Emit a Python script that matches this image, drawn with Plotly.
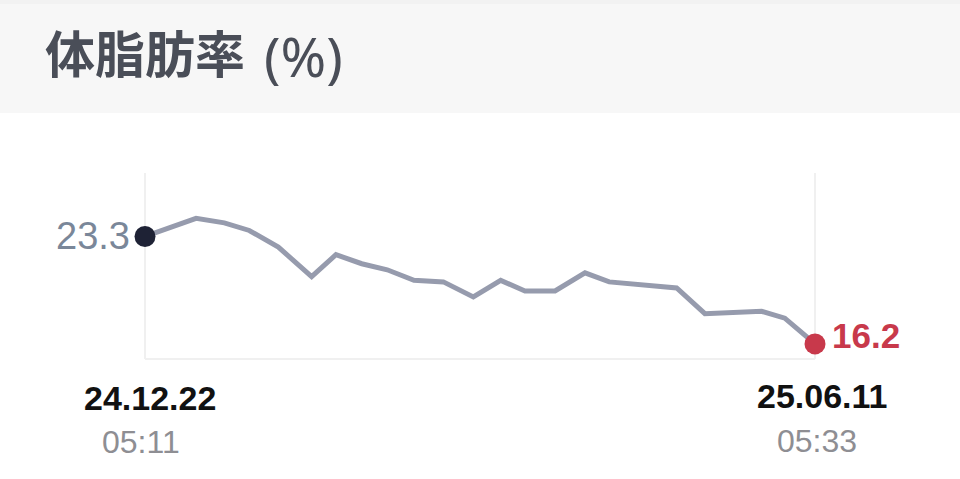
import plotly.graph_objects as go

# ---- data ----
dates = [
    "2024-12-22 05:11", "2025-01-04 06:00", "2025-01-11 11:00", "2025-01-17 20:00",
    "2025-01-25 06:00", "2025-02-02 18:00", "2025-02-08 23:00", "2025-02-15 13:00",
    "2025-02-22 01:00", "2025-02-28 21:00", "2025-03-08 09:00", "2025-03-16 00:30",
    "2025-03-23 00:15", "2025-03-29 05:00", "2025-04-05 21:00", "2025-04-13 12:30",
    "2025-04-19 17:00", "2025-05-06 22:00", "2025-05-14 03:00", "2025-05-28 15:00",
    "2025-06-03 12:30", "2025-06-11 05:33",
]
body_fat = [
    23.3, 24.5, 24.2, 23.7, 22.6, 20.65, 22.1, 21.5, 21.1, 20.4, 20.3, 19.3,
    20.4, 19.7, 19.7, 20.9, 20.3, 19.9, 18.2, 18.35, 17.9, 16.2,
]
title_main = "体脂肪率"
title_unit = "(%)"
start_date_label, start_time_label = "24.12.22", "05:11"
end_date_label, end_time_label = "25.06.11", "05:33"

W, H = 960, 479
L, R, T, B = 145, 145, 173, 120
PW, PH = W - L - R, H - T - B


def px(x):
    return (x - L) / PW


def py(y):
    return (H - B - y) / PH


fig = go.Figure()

fig.add_trace(go.Scatter(
    x=dates, y=body_fat, mode="lines",
    line=dict(color="#969bad", width=5),
    cliponaxis=False, hoverinfo="skip", showlegend=False,
))
fig.add_trace(go.Scatter(
    x=[dates[0], dates[-1]], y=[body_fat[0], body_fat[-1]], mode="markers",
    marker=dict(size=21, color=["#1e2235", "#c8394b"], line=dict(width=0)),
    cliponaxis=False, hoverinfo="skip", showlegend=False,
))

shapes = [
    # header band
    dict(type="rect", xref="paper", yref="paper", x0=px(0), x1=px(W), y0=py(113), y1=py(0),
         fillcolor="#f7f7f7", line=dict(width=0), layer="below"),
    dict(type="rect", xref="paper", yref="paper", x0=px(0), x1=px(W), y0=py(4), y1=py(0),
         fillcolor="#f2f2f2", line=dict(width=0), layer="below"),
    # frame lines
    dict(type="line", xref="paper", yref="paper", x0=0, x1=0, y0=0, y1=1,
         line=dict(color="#f0f0f0", width=2), layer="below"),
    dict(type="line", xref="paper", yref="paper", x0=1, x1=1, y0=0, y1=1,
         line=dict(color="#f0f0f0", width=2), layer="below"),
    dict(type="line", xref="paper", yref="paper", x0=0, x1=1, y0=0, y1=0,
         line=dict(color="#f0f0f0", width=2), layer="below"),
]

num_font = "Liberation Sans, Arial, Helvetica, sans-serif"
annotations = [
    dict(text=f"<b>{title_main}</b>", xref="paper", yref="paper",
         x=px(43), y=py(51), xanchor="left", yanchor="middle", showarrow=False,
         font=dict(family="Noto Sans CJK JP, Noto Sans, sans-serif", size=50, color="#4a4e58")),
    dict(text=title_unit, xref="paper", yref="paper",
         x=px(262), y=py(56), xanchor="left", yanchor="middle", showarrow=False,
         font=dict(family="Noto Sans, sans-serif", size=55, color="#4a4e58")),
    dict(text=f"{body_fat[0]:.1f}", xref="x", yref="y", x=dates[0], y=body_fat[0],
         xanchor="right", yanchor="middle", xshift=-13, yshift=1, showarrow=False,
         font=dict(family=num_font, size=38, color="#7a8799")),
    dict(text=f"<b>{body_fat[-1]:.1f}</b>", xref="x", yref="y", x=dates[-1], y=body_fat[-1],
         xanchor="left", yanchor="middle", xshift=15, yshift=8, showarrow=False,
         font=dict(family=num_font, size=35, color="#c8394b")),
    dict(text=f"<b>{start_date_label}</b>", xref="paper", yref="paper", x=px(150), y=py(398),
         xanchor="center", yanchor="middle", showarrow=False,
         font=dict(family=num_font, size=34, color="#111111")),
    dict(text=start_time_label, xref="paper", yref="paper", x=px(141), y=py(442),
         xanchor="center", yanchor="middle", showarrow=False,
         font=dict(family=num_font, size=32, color="#8e8e93")),
    dict(text=f"<b>{end_date_label}</b>", xref="paper", yref="paper", x=px(822), y=py(396),
         xanchor="center", yanchor="middle", showarrow=False,
         font=dict(family=num_font, size=34, color="#111111")),
    dict(text=end_time_label, xref="paper", yref="paper", x=px(817), y=py(441),
         xanchor="center", yanchor="middle", showarrow=False,
         font=dict(family=num_font, size=32, color="#8e8e93")),
]

fig.update_layout(
    width=W, height=H,
    margin=dict(l=L, r=R, t=T, b=B, pad=0),
    paper_bgcolor="white", plot_bgcolor="rgba(0,0,0,0)",
    xaxis=dict(range=[dates[0], dates[-1]], type="date", showgrid=False, zeroline=False,
               showticklabels=False, showline=False, fixedrange=True),
    yaxis=dict(range=[15.2, 27.5], showgrid=False, zeroline=False,
               showticklabels=False, showline=False, fixedrange=True),
    shapes=shapes, annotations=annotations,
    showlegend=False,
)

fig.write_html(
    "out.html",
    config={"displayModeBar": False},
    post_script="document.body.style.margin='0';document.body.style.overflow='hidden';",
)
